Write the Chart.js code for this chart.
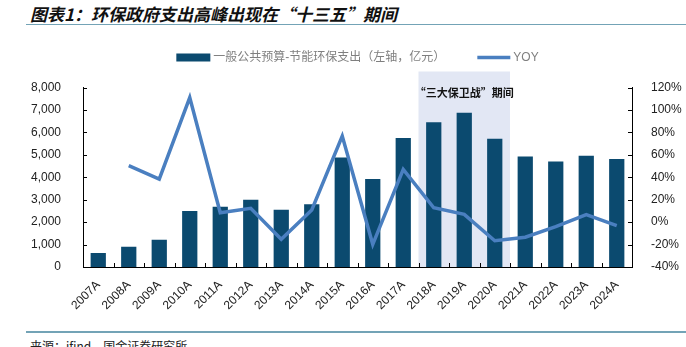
<!DOCTYPE html>
<html>
<head>
<meta charset="utf-8">
<script src="https://cdn.jsdelivr.net/npm/chart.js@4"></script>
<style>
  html, body { margin: 0; padding: 0; width: 686px; height: 347px; overflow: hidden; background: #fff; }
  #title { position: absolute; left: 30px; top: 1px; font: italic bold 17px "Noto Sans CJK SC", sans-serif; color: #111; white-space: nowrap; }
  .rule { position: absolute; left: 26px; right: 0; height: 1.5px; background: #73a3b6; }
  #source { position: absolute; left: 30px; top: 337px; font: 12px "Noto Sans CJK SC", sans-serif; color: #222; white-space: nowrap; }
  #wrap { position: absolute; left: 0; top: 40px; width: 686px; height: 285px; }
</style>
</head>
<body>
<div id="title">图表1：环保政府支出高峰出现在“十三五”期间</div>
<div class="rule" style="top:23.5px"></div>
<div id="wrap"><canvas id="myChart"></canvas></div>
<div class="rule" style="top:331px"></div>
<div id="source">来源：ifind，国金证券研究所</div>

<script>
// 数据
const categories = ['2007A', '2008A', '2009A', '2010A', '2011A', '2012A', '2013A', '2014A', '2015A',
  '2016A', '2017A', '2018A', '2019A', '2020A', '2021A', '2022A', '2023A', '2024A']
const spending = [620, 900, 1220, 2500, 2690, 3000, 2550, 2800, 4880, 3920, 5750, 6450, 6870, 5720, 4930, 4700, 4960, 4810]
const yoy = [null, 50.3, 38.4, 111, 8.4, 12.3, -15.3, 10.8, 76.7, -19.8, 47, 12.8, 6.9, -16.6, -13.5, -4.1, 6.6, -3.2]
const leftTicks = [0, 1000, 2000, 3000, 4000, 5000, 6000, 7000, 8000]
const rightTicks = [-40, -20, 0, 20, 40, 60, 80, 100, 120]
const barLabel = '一般公共预算-节能环保支出（左轴，亿元）'
const lineLabel = 'YOY'
const periodFrom = '2018A'
const periodTo = '2020A'
const periodLabel = '“三大保卫战”期间'

const latin = '"Liberation Sans", Arial, "Noto Sans CJK SC", sans-serif'

// 背景阴影 + 标注
const periodShade = {
  id: 'periodShade',
  beforeDatasetsDraw(chart) {
    const x = chart.scales.x
    const area = chart.chartArea
    const half = (x.getPixelForValue(1) - x.getPixelForValue(0)) / 2
    const l = x.getPixelForValue(categories.indexOf(periodFrom)) - half
    const r = x.getPixelForValue(categories.indexOf(periodTo)) + half
    const c = chart.ctx
    c.save()
    c.fillStyle = '#e2e7f4'
    c.fillRect(l, area.top - 16, r - l, area.bottom - area.top + 16)
    c.fillStyle = '#111'
    c.font = 'bold 11px "Noto Sans CJK SC", sans-serif'
    c.textAlign = 'center'
    c.textBaseline = 'middle'
    c.fillText(periodLabel, (l + r) / 2, area.top + 5.5)
    c.restore()
  }
}

// 向内的刻度线
const innerTicks = {
  id: 'innerTicks',
  afterDraw(chart) {
    const {x, y, y1} = chart.scales
    const area = chart.chartArea
    const c = chart.ctx
    c.save()
    c.strokeStyle = '#000'
    c.lineWidth = 1
    c.beginPath()
    y.ticks.forEach(t => {
      const p = Math.round(y.getPixelForValue(t.value)) + 0.5
      c.moveTo(area.left, p); c.lineTo(area.left + 4, p)
    })
    y1.ticks.forEach(t => {
      const p = Math.round(y1.getPixelForValue(t.value)) + 0.5
      c.moveTo(area.right - 4, p); c.lineTo(area.right, p)
    })
    const half = (x.getPixelForValue(1) - x.getPixelForValue(0)) / 2
    for (let i = 0; i <= categories.length; i++) {
      const p = Math.round(x.getPixelForValue(0) - half + i * half * 2) + 0.5
      c.moveTo(p, area.bottom); c.lineTo(p, area.bottom - 4)
    }
    c.stroke()
    c.restore()
  }
}

// 图例（自己画，色块比默认的宽）
const wideLegend = {
  id: 'wideLegend',
  afterDraw(chart) {
    const c = chart.ctx
    const area = chart.chartArea
    const [bar, line] = chart.data.datasets
    c.save()
    c.font = '12px ' + latin
    const w1 = c.measureText(bar.label).width
    const w2 = c.measureText(line.label).width
    const total = 34 + 3 + w1 + 32 + 33 + 3 + w2
    let x = (area.left + area.right) / 2 - total / 2
    const yc = 17.5
    c.fillStyle = bar.backgroundColor
    c.fillRect(x, yc - 4, 34, 8)
    x += 37
    c.fillStyle = '#7f7f7f'
    c.textBaseline = 'middle'
    c.fillText(bar.label, x, yc)
    x += w1 + 32
    c.strokeStyle = line.borderColor
    c.lineWidth = 3.5
    c.beginPath(); c.moveTo(x, yc); c.lineTo(x + 33, yc); c.stroke()
    x += 36
    c.fillText(line.label, x, yc)
    c.restore()
  }
}

const ctx = document.getElementById('myChart').getContext('2d')
new Chart(ctx, {
  data: {
    labels: categories,
    datasets: [{
      type: 'bar',
      label: barLabel,
      data: spending,
      backgroundColor: '#0b4a6f',
      barPercentage: 0.5,
      categoryPercentage: 1,
      yAxisID: 'y',
      order: 2
    }, {
      type: 'line',
      label: lineLabel,
      data: yoy,
      borderColor: '#4a7fc0',
      backgroundColor: '#4a7fc0',
      borderWidth: 3.5,
      pointRadius: 0,
      tension: 0,
      yAxisID: 'y1',
      order: 1
    }]
  },
  options: {
    responsive: true,
    maintainAspectRatio: false,
    animation: false,
    layout: { padding: { top: 47.5, left: 0, right: 0, bottom: 0 } },
    plugins: {
      tooltip: { enabled: false },
      legend: { display: false }
    },
    scales: {
      x: {
        grid: { display: false },
        border: { display: true, color: '#000' },
        ticks: {
          color: '#222',
          font: { family: latin, size: 12 },
          minRotation: 45,
          maxRotation: 45,
          autoSkip: false,
          padding: 3
        },
        afterFit(scale) { scale.height = 58 }
      },
      y: {
        position: 'left',
        min: 0,
        max: 8000,
        grid: { display: false },
        border: { display: true, color: '#000' },
        afterBuildTicks(scale) { scale.ticks = leftTicks.map(v => ({value: v})) },
        ticks: {
          color: '#222',
          font: { family: latin, size: 12 },
          padding: 14,
          callback: v => v.toLocaleString('en-US')
        },
        afterFit(scale) { scale.width = 83 }
      },
      y1: {
        position: 'right',
        min: -40,
        max: 120,
        grid: { display: false },
        border: { display: true, color: '#000' },
        afterBuildTicks(scale) { scale.ticks = rightTicks.map(v => ({value: v})) },
        ticks: {
          color: '#222',
          font: { family: latin, size: 12 },
          padding: 11,
          callback: v => v + '%'
        },
        afterFit(scale) { scale.width = 54 }
      }
    }
  },
  plugins: [periodShade, innerTicks, wideLegend]
})
</script>
</body>
</html>
